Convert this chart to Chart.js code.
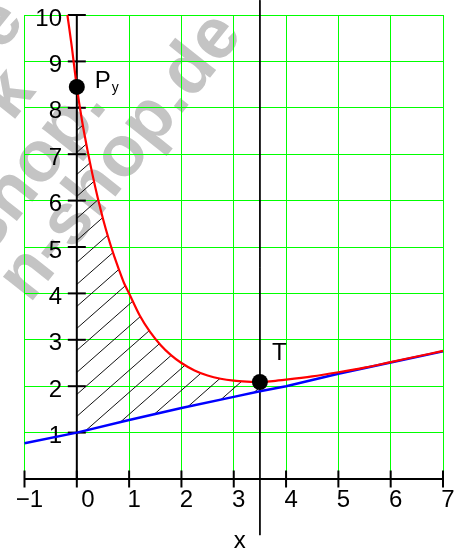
<!DOCTYPE html>
<html><head><meta charset="utf-8">
<script src="https://cdn.jsdelivr.net/npm/chart.js"></script>
<style>html,body{margin:0;padding:0;background:#fff;overflow:hidden}canvas{display:block}</style>
</head><body>
<canvas id="c" width="460" height="549" style="width:460px;height:549px"></canvas>
<script>
// ---- data ----
const xTickValues = [-1, 0, 1, 2, 3, 4, 5, 6, 7];
const xTickLabels = ['\u22121', '0', '1', '2', '3', '4', '5', '6', '7'];
const yTickValues = [0, 1, 2, 3, 4, 5, 6, 7, 8, 9, 10];
const yTickLabels = ['', '1', '2', '3', '4', '5', '6', '7', '8', '9', '10'];

const curveX = [-0.18, -0.1, 0, 0.1, 0.2, 0.3, 0.4, 0.5, 0.6, 0.7, 0.8, 0.9, 1.0, 1.2, 1.4, 1.6, 1.8, 2.0, 2.25, 2.5, 2.75, 3.0, 3.25, 3.5, 3.75, 4.0, 4.5, 5.0, 5.5, 6.0, 6.5, 7.0];
const curveY = [10.0, 9.35, 8.45, 7.72, 7.11, 6.56, 6.06, 5.61, 5.21, 4.85, 4.53, 4.23, 4.0, 3.53, 3.17, 2.89, 2.67, 2.5, 2.34, 2.23, 2.16, 2.12, 2.10, 2.09, 2.11, 2.14, 2.21, 2.30, 2.40, 2.52, 2.64, 2.76];

const lineX = [-1, 0, 1, 2, 3, 3.5, 4, 5, 6, 7];
const lineY = [0.77, 1.0, 1.27, 1.53, 1.77, 1.89, 2.0, 2.27, 2.51, 2.75];

const markerX = [0, 3.5];
const markerY = [8.45, 2.09];

const verticalX = 3.5;
const verticalY = [10.32, -1.21];

const hatchFrom = 0;
const hatchTo = 3.5;

const axisTitle = 'x';
const watermarkLines = ['e', 'k', 'shop.', 'n-shop.de'];

// ---- build ----
const FONT = '"Liberation Sans", Arial, sans-serif';
const pts = (xs, ys) => xs.map((x, i) => ({x: x, y: ys[i]}));
const inRange = (xs, ys) => pts(xs, ys).filter(p => p.x >= hatchFrom && p.x <= hatchTo);

function hatchPattern() {
  const w = 25, h = 22;
  const c = document.createElement('canvas');
  c.width = w; c.height = h;
  const g = c.getContext('2d');
  g.strokeStyle = '#111';
  g.lineWidth = 1;
  g.beginPath();
  g.moveTo(-w, h); g.lineTo(w, -h);
  g.moveTo(0, h); g.lineTo(w, 0);
  g.moveTo(0, 2 * h); g.lineTo(2 * w, 0);
  g.stroke();
  return g.createPattern(c, 'repeat');
}

const watermark = {
  id: 'watermark',
  beforeDraw(chart) {
    const ctx = chart.ctx;
    ctx.save();
    ctx.fillStyle = '#ffffff';
    ctx.fillRect(0, 0, chart.width, chart.height);
    ctx.translate(244, 35);
    ctx.rotate(-51.5 * Math.PI / 180);
    ctx.font = 'bold 72px ' + FONT;
    ctx.fillStyle = '#c4c4c4';
    ctx.textAlign = 'right';
    ctx.textBaseline = 'alphabetic';
    const pos = [[-125, -179], [-173, -127], [-140, -62], [0, 0]];
    watermarkLines.forEach((t, i) => ctx.fillText(t, pos[i][0], pos[i][1]));
    ctx.restore();
  }
};

const pointLabels = {
  id: 'pointLabels',
  afterDatasetsDraw(chart) {
    const ctx = chart.ctx, xs = chart.scales.x, ys = chart.scales.y;
    ctx.save();
    ctx.fillStyle = '#000';
    ctx.textBaseline = 'alphabetic';
    ctx.textAlign = 'left';
    let px = xs.getPixelForValue(markerX[0]), py = ys.getPixelForValue(markerY[0]);
    ctx.font = '24px ' + FONT;
    ctx.fillText('P', px + 18, py + 1);
    ctx.font = '14px ' + FONT;
    ctx.fillText('y', px + 35, py + 5);
    px = xs.getPixelForValue(markerX[1]); py = ys.getPixelForValue(markerY[1]);
    ctx.font = '24px ' + FONT;
    ctx.fillText('T', px + 12, py - 22.5);
    ctx.restore();
  }
};

const tickFont = {family: FONT, size: 24};

new Chart(document.getElementById('c'), {
  type: 'scatter',
  data: {
    datasets: [
      { // markers
        data: pts(markerX, markerY), order: 0, clip: false,
        pointRadius: 8, pointBackgroundColor: '#000', pointBorderWidth: 0, showLine: false
      },
      { // red curve
        data: pts(curveX, curveY), order: 1, clip: false, showLine: true,
        borderColor: '#ff0000', borderWidth: 2.2, pointRadius: 0, cubicInterpolationMode: 'monotone'
      },
      { // blue line
        data: pts(lineX, lineY), order: 2, clip: false, showLine: true,
        borderColor: '#0000ff', borderWidth: 2.5, pointRadius: 0
      },
      { // x tick marks
        data: xTickValues.map(v => ({x: v, y: 0})), order: 3, clip: false, showLine: false,
        pointStyle: 'line', pointRadius: 8.5, pointRotation: 90, pointBorderWidth: 2, pointBorderColor: '#000'
      },
      { // y tick marks
        data: yTickValues.filter(v => v > 0).map(v => ({x: 0, y: v})), order: 3, clip: false, showLine: false,
        pointStyle: 'line', pointRadius: 9, pointRotation: 0, pointBorderWidth: 2, pointBorderColor: '#000'
      },
      { // y axis line
        data: [{x: 0, y: yTickValues[0]}, {x: 0, y: yTickValues[yTickValues.length - 1]}], order: 4, clip: false,
        showLine: true, borderColor: '#000', borderWidth: 2, pointRadius: 0
      },
      { // vertical line x = 3.5
        data: verticalY.map(v => ({x: verticalX, y: v})), order: 3, clip: false,
        showLine: true, borderColor: '#000', borderWidth: 1, pointRadius: 0
      },
      { // hatch upper edge
        data: inRange(curveX, curveY), order: 5, showLine: true,
        borderColor: 'rgba(0,0,0,0)', borderWidth: 0, pointRadius: 0, cubicInterpolationMode: 'monotone',
        fill: {target: 8}, backgroundColor: hatchPattern()
      },
      { // hatch lower edge
        data: inRange(lineX, lineY), order: 6, showLine: true,
        borderColor: 'rgba(0,0,0,0)', borderWidth: 0, pointRadius: 0, fill: false
      }
    ]
  },
  options: {
    responsive: false,
    devicePixelRatio: 1,
    animation: false,
    events: [],
    layout: {padding: {left: 24.5, top: 15, right: 17, bottom: 0}},
    plugins: {legend: {display: false}, tooltip: {enabled: false}, title: {display: false}},
    scales: {
      x: {
        type: 'linear', min: -1, max: 7, position: 'bottom',
        afterBuildTicks: s => { s.ticks = xTickValues.map(v => ({value: v})); },
        afterFit: s => { s.height = 70; },
        grid: {color: '#00ff00', lineWidth: 1, drawTicks: false},
        border: {display: true, color: '#000', width: 2},
        ticks: {
          autoSkip: false, maxRotation: 0, padding: 7, labelOffset: 5, color: '#000', font: tickFont,
          callback: v => { const i = xTickValues.indexOf(v); const s = i >= 0 ? xTickLabels[i] : ''; return v === 0 ? '\u2002' + s : s; }
        },
        title: {display: true, text: '\u2002' + axisTitle, color: '#000', font: {family: FONT, size: 24, lineHeight: 0.6}, padding: 0}
      },
      y: {
        type: 'linear', min: 0, max: 10, position: {x: -0.283},
        afterBuildTicks: s => { s.ticks = yTickValues.map(v => ({value: v})); },
        grid: {color: c => (c.tick && c.tick.value === 0) ? 'rgba(0,0,0,0)' : '#00ff00', lineWidth: 1, drawTicks: false},
        border: {display: false},
        ticks: {
          autoSkip: false, padding: 0, labelOffset: 4, color: '#000', font: tickFont,
          callback: v => { const i = yTickValues.indexOf(v); return i >= 0 ? yTickLabels[i] : ''; }
        }
      }
    }
  },
  plugins: [watermark, pointLabels]
});
</script>
</body></html>
